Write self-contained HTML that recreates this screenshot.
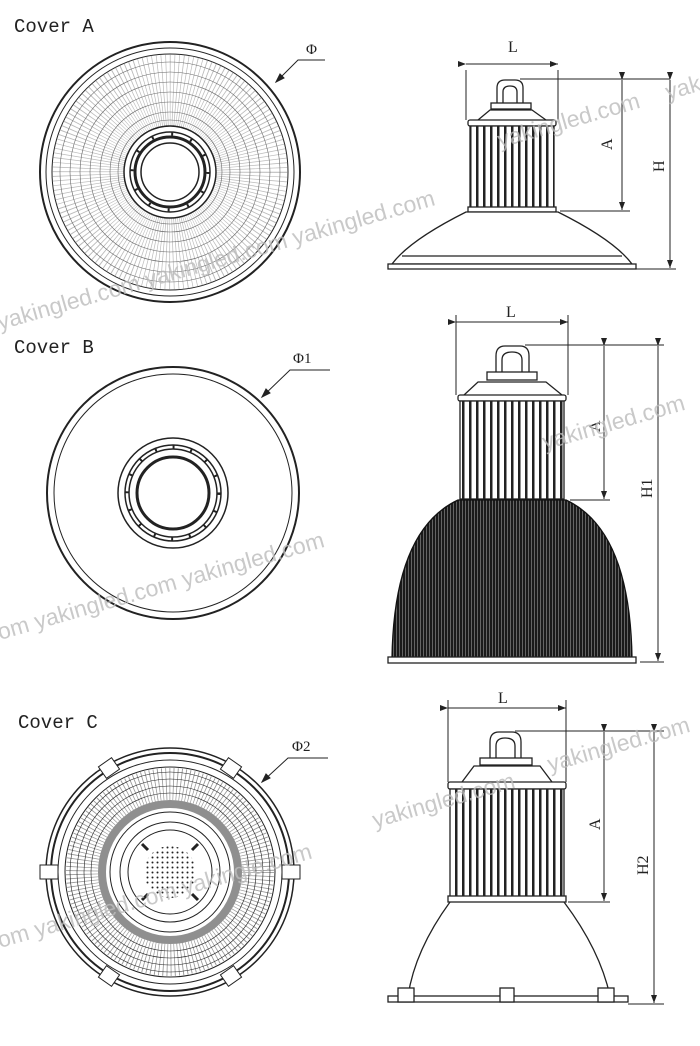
<!DOCTYPE html>
<html><head><meta charset="utf-8"><style>
html,body{margin:0;padding:0;background:#fff}
svg{display:block}
.m{font-family:"Liberation Mono","DejaVu Sans Mono",monospace}
.s{font-family:"Liberation Serif",serif}
.w{font-family:"Liberation Sans",sans-serif}
</style></head><body>
<svg width="700" height="1046" viewBox="0 0 700 1046" xmlns="http://www.w3.org/2000/svg">
<defs>
<pattern id="fins" width="7" height="10" patternUnits="userSpaceOnUse"><rect width="7" height="10" fill="#fff"/><rect x="0" width="2.5" height="10" fill="#222"/></pattern>
<pattern id="dome" width="3" height="10" patternUnits="userSpaceOnUse"><rect width="3" height="10" fill="#1a1a1a"/><rect x="0" width="0.8" height="10" fill="#777"/></pattern>
<pattern id="dots" width="5" height="5" patternUnits="userSpaceOnUse"><circle cx="2.5" cy="2.5" r="1" fill="#222"/></pattern>
<marker id="ar" markerWidth="8" markerHeight="6" refX="8" refY="3" orient="auto"><path d="M0,0 L8,3 L0,6z" fill="#222"/></marker>
</defs>
<g fill="none" stroke="#222">
<!-- Cover A -->
<text class="m" x="14" y="32" font-size="19" fill="#222" stroke="none">Cover A</text>
<circle cx="170" cy="172" r="130" stroke-width="2"/>
<circle cx="170" cy="172" r="124" stroke-width="1"/>
<circle cx="170" cy="172" r="118" stroke-width="1"/>
<circle cx="170" cy="172" r="82" stroke="#777" stroke-width="72" stroke-dasharray="0.7 2.6" opacity="0.5"/>
<circle cx="170" cy="172" r="110" stroke-width="0.6" stroke="#666"/><circle cx="170" cy="172" r="100" stroke-width="0.6" stroke="#666"/><circle cx="170" cy="172" r="90" stroke-width="0.6" stroke="#666"/><circle cx="170" cy="172" r="80" stroke-width="0.6" stroke="#666"/><circle cx="170" cy="172" r="70" stroke-width="0.6" stroke="#666"/><circle cx="170" cy="172" r="60" stroke-width="0.6" stroke="#666"/><circle cx="170" cy="172" r="52" stroke-width="0.6" stroke="#666"/>
<circle cx="170" cy="172" r="46" fill="#fff" stroke-width="1.5"/>
<circle cx="170" cy="172" r="40" stroke-width="1.5"/>
<circle cx="170" cy="172" r="35" stroke-width="3"/>
<circle cx="170" cy="172" r="29" stroke-width="1.5"/>
<circle cx="170" cy="172" r="38" stroke-width="3" stroke-dasharray="2 18"/>
<path d="M276,82 L298,60 L325,60" stroke-width="1"/><path d="M276,82 l4,-8 l4,4z" fill="#222"/>
<text class="s" x="306" y="54" font-size="15" fill="#222" stroke="none">Φ</text>

<!-- Cover B -->
<text class="m" x="14" y="353" font-size="19" fill="#222" stroke="none">Cover B</text>
<circle cx="173" cy="493" r="126" stroke-width="2"/>
<circle cx="173" cy="493" r="119" stroke-width="1"/>
<circle cx="173" cy="493" r="55" stroke-width="1.5"/>
<circle cx="173" cy="493" r="48" stroke-width="1.5"/>
<circle cx="173" cy="493" r="44" stroke-width="1.5"/>
<circle cx="173" cy="493" r="36" stroke-width="3"/>
<circle cx="173" cy="493" r="46" stroke-width="4" stroke-dasharray="2 16"/>
<path d="M262,397 L290,370 L330,370" stroke-width="1"/><path d="M262,397 l4,-8 l4,4z" fill="#222"/>
<text class="s" x="293" y="363" font-size="15" fill="#222" stroke="none">Φ1</text>

<!-- Cover C -->
<text class="m" x="18" y="728" font-size="19" fill="#222" stroke="none">Cover C</text>
<circle cx="170" cy="872" r="124" stroke-width="1.5"/>
<circle cx="170" cy="872" r="119" stroke-width="2"/>
<circle cx="170" cy="872" r="112" stroke-width="1"/>
<circle cx="170" cy="872" r="105" stroke-width="1"/>
<circle cx="170" cy="872" r="88" stroke="#555" stroke-width="32" stroke-dasharray="0.8 2.8" opacity="0.6"/>
<circle cx="170" cy="872" r="100" stroke-width="0.6"/><circle cx="170" cy="872" r="93" stroke-width="0.6"/><circle cx="170" cy="872" r="86" stroke-width="0.6"/><circle cx="170" cy="872" r="79" stroke-width="0.6"/>
<circle cx="170" cy="872" r="68" stroke="#444" stroke-width="8" opacity="0.6"/>
<circle cx="170" cy="872" r="60" stroke-width="1"/>
<circle cx="170" cy="872" r="50" stroke-width="1"/>
<circle cx="170" cy="872" r="42" stroke-width="1"/>
<circle cx="170" cy="872" r="26" fill="url(#dots)" stroke="none"/>
<g stroke-width="3"><path d="M142,844 l6,6 M198,844 l-6,6 M142,900 l6,-6 M198,900 l-6,-6"/></g>
<g fill="#fff" stroke-width="1">
<rect x="40" y="865" width="18" height="14"/><rect x="282" y="865" width="18" height="14"/>
<rect x="101" y="761" width="16" height="14" transform="rotate(-35 109 768)"/><rect x="223" y="761" width="16" height="14" transform="rotate(35 231 768)"/>
<rect x="101" y="969" width="16" height="14" transform="rotate(35 109 976)"/><rect x="223" y="969" width="16" height="14" transform="rotate(-35 231 976)"/>
</g>
<path d="M262,782 L288,758 L328,758" stroke-width="1"/><path d="M262,782 l4,-8 l4,4z" fill="#222"/>
<text class="s" x="292" y="751" font-size="15" fill="#222" stroke="none">Φ2</text>

<!-- Side A -->
<g stroke-width="1.3">
<path d="M497,104 L497,88 Q497,80 505,80 L515,80 Q523,80 523,88 L523,104 M503,104 L503,92 Q503,86 510,86 Q517,86 517,92 L517,104"/>
<rect x="491" y="103" width="40" height="6" fill="#fff"/>
<path d="M478,120 L490,110 L532,110 L546,120"/>
<rect x="468" y="120" width="88" height="6" rx="2" fill="#fff"/>
<rect x="470" y="126" width="84" height="82" fill="url(#fins)"/>
<rect x="468" y="207" width="88" height="5" fill="#fff"/>
<path d="M466,212 Q410,240 392,264 L632,264 Q614,240 558,212z" fill="#fff"/>
<path d="M402,256 L622,256"/>
<rect x="388" y="264" width="248" height="5" fill="#fff"/>
</g>
<g stroke-width="1">
<path d="M466,70 L466,120 M558,70 L558,120"/><path d="M466,64 L558,64" marker-start="url(#ar)" marker-end="url(#ar)"/>
<path d="M520,79 L670,79 M560,211 L630,211 M636,269 L676,269"/>
<path d="M622,80 L622,210" marker-start="url(#ar)" marker-end="url(#ar)"/>
<path d="M670,80 L670,268" marker-start="url(#ar)" marker-end="url(#ar)"/>
</g>
<text class="s" x="508" y="52" font-size="16" fill="#222" stroke="none">L</text>
<text class="s" x="612" y="150" font-size="16" fill="#222" stroke="none" transform="rotate(-90 612 150)">A</text>
<text class="s" x="664" y="172" font-size="16" fill="#222" stroke="none" transform="rotate(-90 664 172)">H</text>

<!-- Side B -->
<g stroke-width="1.3">
<path d="M496,372 L496,356 Q496,346 505,346 L520,346 Q529,346 529,356 L529,372 M502,372 L502,360 Q502,352 512,352 Q522,352 522,360 L522,372"/>
<rect x="487" y="372" width="50" height="8" fill="#fff"/>
<path d="M464,395 L478,382 L546,382 L562,395"/>
<rect x="458" y="395" width="108" height="6" rx="2" fill="#fff"/>
<rect x="460" y="401" width="104" height="98" fill="url(#fins)"/>
<path d="M458,500 L566,500 Q630,530 632,658 L392,658 Q394,530 458,500z" fill="url(#dome)" stroke="#111"/>
<rect x="388" y="657" width="248" height="6" fill="#fff"/>
</g>
<g stroke-width="1">
<path d="M456,315 L456,395 M568,315 L568,395"/><path d="M456,322 L568,322" marker-start="url(#ar)" marker-end="url(#ar)"/>
<path d="M525,345 L664,345 M570,500 L610,500 M640,662 L664,662"/>
<path d="M604,346 L604,499" marker-start="url(#ar)" marker-end="url(#ar)"/>
<path d="M658,346 L658,661" marker-start="url(#ar)" marker-end="url(#ar)"/>
</g>
<text class="s" x="506" y="317" font-size="16" fill="#222" stroke="none">L</text>
<text class="s" x="600" y="432" font-size="16" fill="#222" stroke="none" transform="rotate(-90 600 432)">A</text>
<text class="s" x="652" y="498" font-size="16" fill="#222" stroke="none" transform="rotate(-90 652 498)">H1</text>

<!-- Side C -->
<g stroke-width="1.3">
<path d="M490,758 L490,742 Q490,732 499,732 L512,732 Q521,732 521,742 L521,758 M496,758 L496,746 Q496,738 505,738 Q515,738 515,746 L515,758"/>
<rect x="480" y="758" width="52" height="7" fill="#fff"/>
<path d="M462,782 L474,766 L540,766 L552,782"/>
<rect x="448" y="782" width="118" height="7" rx="2" fill="#fff"/>
<rect x="450" y="789" width="114" height="108" fill="url(#fins)"/>
<rect x="448" y="896" width="118" height="6" fill="#fff"/>
<path d="M450,902 Q415,950 408,996 M564,902 Q600,950 610,996"/>
<rect x="388" y="996" width="240" height="6" fill="#fff"/>
<rect x="398" y="988" width="16" height="14" fill="#fff"/><rect x="500" y="988" width="14" height="14" fill="#fff"/><rect x="598" y="988" width="16" height="14" fill="#fff"/>
</g>
<g stroke-width="1">
<path d="M448,700 L448,782 M566,700 L566,782"/><path d="M448,708 L566,708" marker-start="url(#ar)" marker-end="url(#ar)"/>
<path d="M515,731 L664,731 M568,902 L610,902 M628,1004 L664,1004"/>
<path d="M604,732 L604,901" marker-start="url(#ar)" marker-end="url(#ar)"/>
<path d="M654,732 L654,1003" marker-start="url(#ar)" marker-end="url(#ar)"/>
</g>
<text class="s" x="498" y="703" font-size="16" fill="#222" stroke="none">L</text>
<text class="s" x="600" y="830" font-size="16" fill="#222" stroke="none" transform="rotate(-90 600 830)">A</text>
<text class="s" x="648" y="875" font-size="16" fill="#222" stroke="none" transform="rotate(-90 648 875)">H2</text>
</g>

<!-- watermarks -->
<g class="w" font-size="23" fill="#bbb" fill-opacity="0.8">
<text x="0" y="330" transform="rotate(-16 0 330)">yakingled.com yakingled.com yakingled.com</text>
<text x="500" y="148" transform="rotate(-16 500 148)">yakingled.com</text>
<text x="668" y="100" transform="rotate(-16 668 100)">yak</text>
<text x="0" y="640" transform="rotate(-16 0 640)">om  yakingled.com yakingled.com</text>
<text x="545" y="450" transform="rotate(-16 545 450)">yakingled.com</text>
<text x="0" y="948" transform="rotate(-16 0 948)">om  yakingled.com yakingle.com</text>
<text x="375" y="828" transform="rotate(-16 375 828)">yakingled.com</text>
<text x="550" y="772" transform="rotate(-16 550 772)">yakingled.com</text>
</g>
</svg>
</body></html>
